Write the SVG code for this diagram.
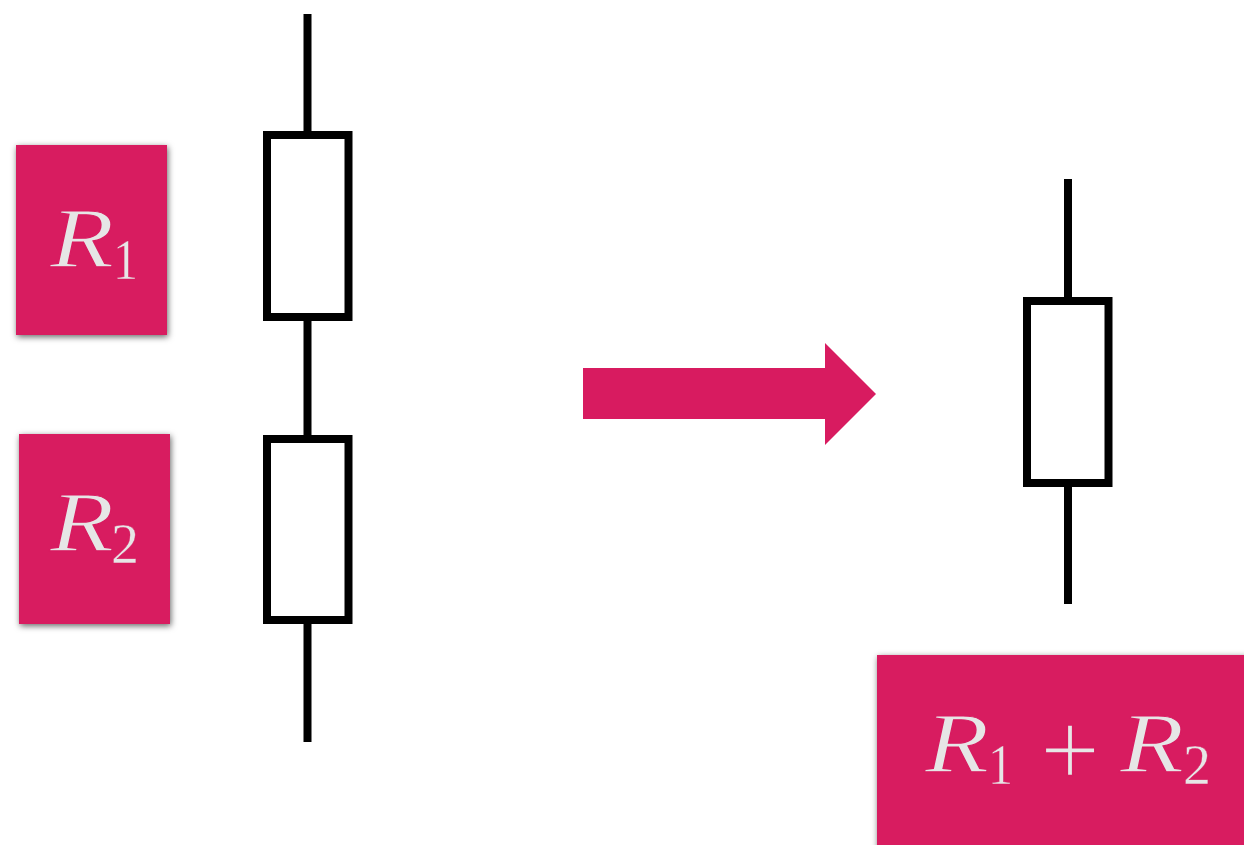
<svg xmlns="http://www.w3.org/2000/svg" width="1244" height="845" viewBox="0 0 1244 845">
<defs>
<filter id="shadow" x="-15%" y="-15%" width="130%" height="130%"><feDropShadow dx="1" dy="2" stdDeviation="3" flood-color="#000" flood-opacity="0.6"/></filter>
</defs>
<style>
.card{fill:#d81b60;filter:url(#shadow)}
.wire{stroke:#000;stroke-width:8;fill:none}
.res{stroke:#000;stroke-width:8;fill:#fff}
.sym{font-family:"Liberation Serif",serif;fill:#e6e6e6;stroke:#d81b60}
.r{font-size:85px;font-style:italic;stroke-width:1.2px}
.sub{font-size:56px;stroke-width:0.4px}
.plus{font-size:108px;stroke-width:1.6px}
</style>
<rect width="1244" height="845" fill="#fff"/>
<g id="connectors">
<path class="wire" d="M307.500 14V135M307.500 317V439M307.500 620V742"/>
<path class="wire" d="M1068 179V301M1068 483V604"/>
</g>
<g id="resistor-1"><rect class="res" x="267" y="135" width="81.500" height="182"/></g>
<g id="resistor-2"><rect class="res" x="267" y="439" width="81.500" height="181"/></g>
<g id="resistor-total"><rect class="res" x="1027" y="301" width="81.500" height="182"/></g>
<g id="label-r1">
<rect class="card" x="16" y="145" width="151" height="190"/>
<text class="sym r" x="50" y="267" textLength="64" lengthAdjust="spacingAndGlyphs">R</text>
<text class="sym sub" x="113" y="279" textLength="25" lengthAdjust="spacingAndGlyphs">1</text>
</g>
<g id="label-r2">
<rect class="card" x="19" y="434" width="151" height="190"/>
<text class="sym r" x="50" y="551" textLength="64" lengthAdjust="spacingAndGlyphs">R</text>
<text class="sym sub" x="111" y="563" textLength="28" lengthAdjust="spacingAndGlyphs">2</text>
</g>
<g id="arrow"><polygon points="583,368 825,368 825,343 876,394 825,445 825,419 583,419" fill="#d81b60"/></g>
<g id="label-sum">
<rect class="card" x="877" y="655" width="380" height="200"/>
<text class="sym r" x="925" y="772" textLength="64" lengthAdjust="spacingAndGlyphs">R</text>
<text class="sym sub" x="988" y="784" textLength="25" lengthAdjust="spacingAndGlyphs">1</text>
<text class="sym plus" x="1040" y="786" textLength="60" lengthAdjust="spacingAndGlyphs">+</text>
<text class="sym r" x="1120" y="772" textLength="64" lengthAdjust="spacingAndGlyphs">R</text>
<text class="sym sub" x="1183" y="784" textLength="28" lengthAdjust="spacingAndGlyphs">2</text>
</g>
</svg>
